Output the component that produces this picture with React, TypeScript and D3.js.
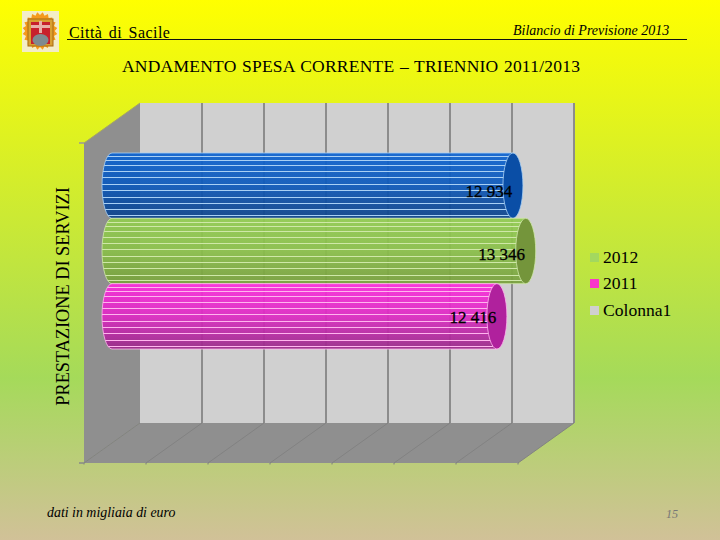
import React from "react";
import * as d3 from "d3";

const categories = ["2013", "2012", "2011"];
const values = [12934, 13346, 12416];
const valueLabels = ["12 934", "13 346", "12 416"];
const legendLabels = ["2012", "2011", "Colonna1"];
const xTicks = [0, 2000, 4000, 6000, 8000, 10000, 12000, 14000];
const axisTitle = "PRESTAZIONE DI SERVIZI";

const bodyTop = ["#0d63d0", "#92cc50", "#fb2cdc"];
const bodyBottom = ["#0d4288", "#779f3c", "#982a88"];
const capColor = ["#0a4ea6", "#74953b", "#b0219d"];
const stripeColor = ["#a8d0f5", "#cfe8a8", "#ffb4ee"];
const legendColor = ["#a3d85f", "#f936cb", "#d0d0d0"];
const stripeFractions = [0.05, 0.11, 0.19, 0.28, 0.37, 0.47, 0.57, 0.67, 0.76, 0.86, 0.95];

const x = d3.scaleLinear().domain([0, 14000]).range([84, 518]);
const y = d3.scaleBand().domain(categories).range([153, 349]).paddingInner(0);

const DX = 56, DY = -40;
const wallTop = 143, wallBottom = 463;
const barDX = 28, rx = 10;
const poly = (p: number[][]) => d3.line()(p as [number, number][]) + "Z";

function Logo() {
  const star = d3.range(40).map((i) => {
    const a = (i / 40) * 2 * Math.PI, r = i % 2 ? 19 : 16;
    return [40 + r * 0.92 * Math.cos(a), 31 + r * Math.sin(a)];
  });
  return (
    <g>
      <rect x={22} y={11} width={37} height={41} fill="#f3edc6" />
      <path d={poly(star)} fill="#f59a1c" />
      <rect x={28} y={19} width={25} height={27} fill="#d8a030" stroke="#a86a10" />
      <rect x={31} y={22} width={19} height={22} fill="#c8202c" />
      <rect x={31} y={25} width={19} height={3} fill="#e8b0a8" />
      <rect x={39} y={21} width={3} height={12} fill="#e8b0a8" />
      <ellipse cx={40.5} cy={40} rx={8} ry={6} fill="#7f8a90" />
    </g>
  );
}

export default function App() {
  return (
    <svg width={720} height={540} style={{ position: "absolute", left: 0, top: 0, display: "block" }} fontFamily="'Liberation Serif', serif">
      <defs>
        <linearGradient id="bg" x1="0" y1="0" x2="0" y2="1">
          <stop offset="0" stopColor="#ffff00" />
          <stop offset="0.7" stopColor="#a5da5a" />
          <stop offset="1" stopColor="#d1c198" />
        </linearGradient>
        {categories.map((c, i) => (
          <linearGradient key={c} id={`g${i}`} x1="0" y1="0" x2="0" y2="1">
            <stop offset="0" stopColor={bodyTop[i]} />
            <stop offset="0.5" stopColor={d3.interpolateRgb(bodyTop[i], bodyBottom[i])(0.3)} />
            <stop offset="1" stopColor={bodyBottom[i]} />
          </linearGradient>
        ))}
      </defs>
      <rect width={720} height={540} fill="url(#bg)" />
      <Logo />
      <line x1={67} x2={687} y1={39.5} y2={39.5} stroke="#111" strokeWidth={1} />
      <text x={69} y={38} fontSize={16} wordSpacing={2} letterSpacing={0.45}>Città di Sacile</text>
      <text x={513} y={35} fontSize={14} fontStyle="italic">Bilancio di Previsione 2013</text>
      <text x={122} y={72} fontSize={17.5} wordSpacing={0.8} textLength={458} lengthAdjust="spacing">ANDAMENTO SPESA CORRENTE – TRIENNIO 2011/2013</text>

      {/* walls and floor */}
      <path d={poly([[x(0) + DX, wallTop + DY], [x(14000) + DX, wallTop + DY], [x(14000) + DX, wallBottom + DY], [x(0) + DX, wallBottom + DY]])} fill="#d0d0d0" />
      <path d={poly([[x(0), wallTop], [x(0) + DX, wallTop + DY], [x(0) + DX, wallBottom + DY], [x(0), wallBottom]])} fill="#8f8f8f" />
      <path d={poly([[x(0), wallBottom], [x(0) + DX, wallBottom + DY], [x(14000) + DX, wallBottom + DY], [x(14000), wallBottom]])} fill="#8f8f8f" />
      {xTicks.map((t) => (
        <g key={t}>
          <line x1={x(t) + DX} x2={x(t) + DX} y1={wallTop + DY} y2={wallBottom + DY} stroke="#8c8c8c" strokeWidth={t === 0 ? 0 : 2} />
          <line x1={x(t)} x2={x(t) + DX} y1={wallBottom} y2={wallBottom + DY} stroke="#828282" strokeWidth={1} />
          <line x1={x(t)} x2={x(t)} y1={wallBottom} y2={wallBottom + 1.5} stroke="#7f7f7f" strokeWidth={1} />
        </g>
      ))}
      <line x1={x(0) - 5} x2={x(0)} y1={wallTop} y2={wallTop} stroke="#999" strokeWidth={1.5} />
      <line x1={x(0) - 5} x2={x(0)} y1={wallBottom} y2={wallBottom} stroke="#888" strokeWidth={1.5} />
      <line x1={x(0)} x2={x(0) + DX} y1={wallTop} y2={wallTop + DY} stroke="#a8a860" strokeWidth={1} />

      {/* cylinders */}
      {categories.map((c, i) => {
        const x0 = x(0) + barDX, x1 = x(values[i]) + barDX;
        const top = y(c)!, h = y.bandwidth(), bottom = top + h, ry = h / 2;
        const body = `M${x0},${top}L${x1},${top}L${x1},${bottom}L${x0},${bottom}A${rx},${ry} 0 0 1 ${x0},${top}Z`;
        return (
          <g key={c}>
            <path d={body} fill={`url(#g${i})`} fillOpacity={0.93} stroke={stripeColor[i]} strokeWidth={0.8} />
            <clipPath id={`c${i}`}><path d={body} /></clipPath>
            <g clipPath={`url(#c${i})`}>
              {stripeFractions.map((f) => (
                <line key={f} x1={x0 - rx} x2={x1} y1={Math.round(top + f * h) + 0.5} y2={Math.round(top + f * h) + 0.5} stroke={stripeColor[i]} strokeWidth={1} />
              ))}
            </g>
            <ellipse cx={x1} cy={top + ry} rx={rx} ry={ry} fill={capColor[i]} stroke={stripeColor[i]} strokeWidth={0.8} />
          </g>
        );
      })}
      {categories.map((c, i) => (
        <text key={c} x={x(values[i]) + barDX - 24} y={y(c)! + y.bandwidth() / 2 + 11 - i * 2.5 + (i === 2 ? 1 : 0)} fontSize={17} textAnchor="middle" stroke="#000" strokeWidth={0.3}>{valueLabels[i]}</text>
      ))}

      <text transform="translate(69,296.5) rotate(-90)" fontSize={18.3} textAnchor="middle">{axisTitle}</text>

      {legendLabels.map((l, i) => {
        const ly = [258, 284, 311][i];
        return (
          <g key={l}>
            <rect x={590} y={ly - 5} width={9} height={9} fill={legendColor[i]} />
            <text x={603} y={ly + 5} fontSize={17.6}>{l}</text>
          </g>
        );
      })}
      <text x={47} y={517} fontSize={13.9} fontStyle="italic">dati in migliaia di euro</text>
      <text x={666} y={518} fontSize={12} fontStyle="italic" fill="#777">15</text>
    </svg>
  );
}
